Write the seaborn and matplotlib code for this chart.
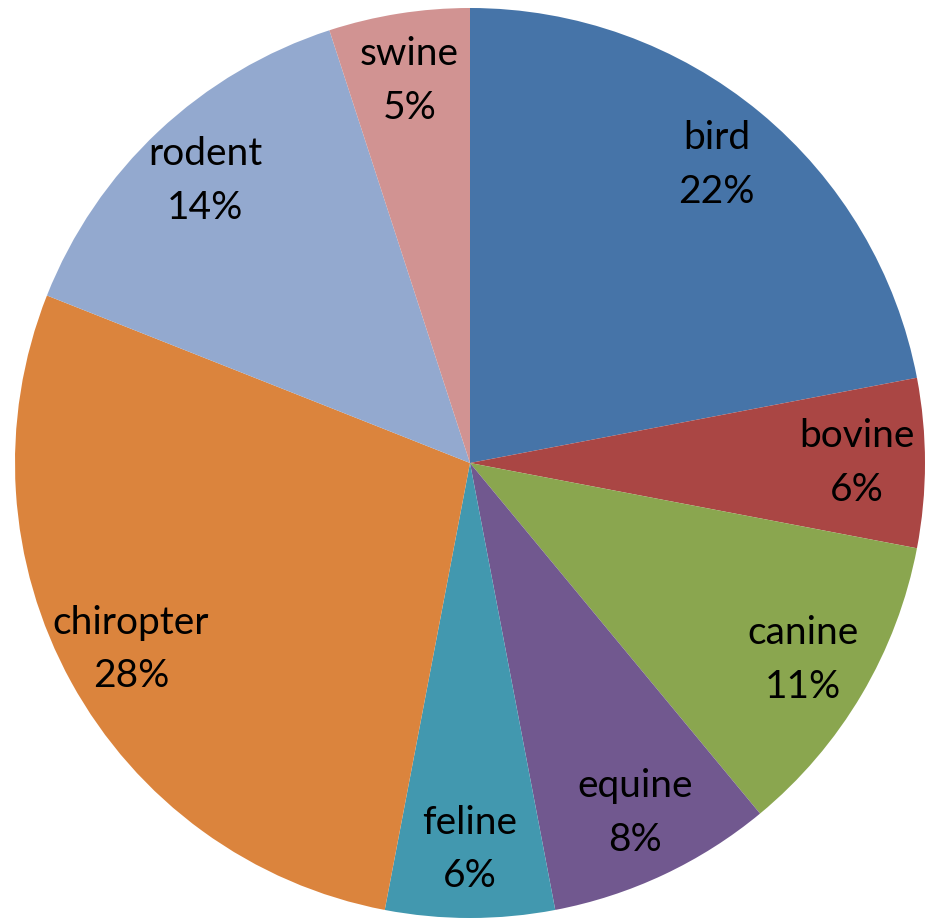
import matplotlib
matplotlib.use("Agg")
import matplotlib.pyplot as plt
import seaborn as sns

# Share of isolates by host group (percent)
hosts = ["bird", "bovine", "canine", "equine", "feline", "chiropter", "rodent", "swine"]
shares = [22, 6, 11, 8, 6, 28, 14, 5]
colors = ["#4674A8", "#AA4644", "#8AA64F", "#71588F", "#4298AF", "#DB843D", "#93A9CF", "#D19392"]

sns.set_theme(style="white")
plt.rcParams["font.family"] = ["Lato", "DejaVu Sans"]

W, H, DPI = 925, 919, 100
fig = plt.figure(figsize=(W / DPI, H / DPI), dpi=DPI)
cx, cy, r = 470, 463, 455
ax = fig.add_axes([(cx - r) / W, (H - cy - r) / H, 2 * r / W, 2 * r / H])

palette = sns.color_palette(colors)
names = iter(hosts)
wedges, texts, autotexts = ax.pie(
    shares,
    colors=palette,
    startangle=90,
    counterclock=False,
    radius=1.0,
    autopct=lambda p: f"{next(names)}\n{p:.0f}%",
    pctdistance=0.85,
    wedgeprops=dict(linewidth=0),
    textprops=dict(fontsize=28, color="black", linespacing=1.6),
)
ax.set_xlim(-1.0, 1.0)
ax.set_ylim(-1.0, 1.0)
ax.set_aspect("equal")
ax.axis("off")

fig.savefig("out.png", dpi=DPI, facecolor="white")
